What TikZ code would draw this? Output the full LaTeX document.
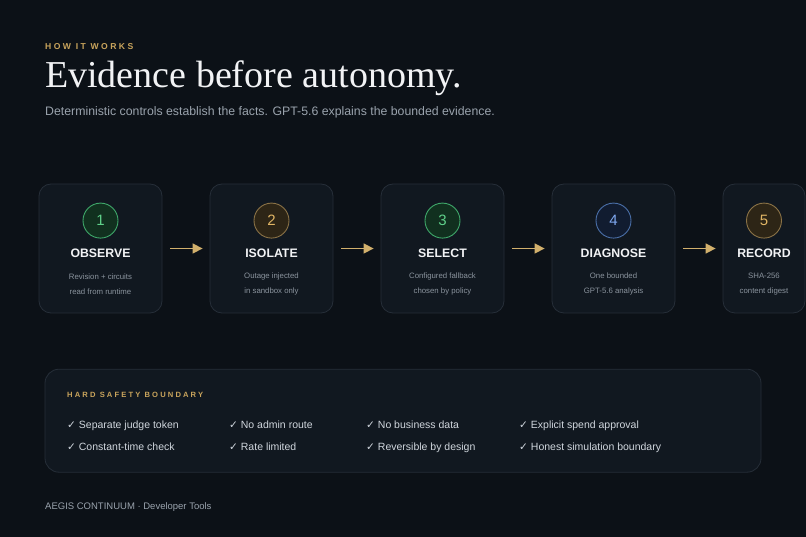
\documentclass[tikz,border=0pt]{standalone}
\usepackage{fontspec}
\setmainfont{Liberation Sans}
\newfontfamily\titlefont{Liberation Serif}
\newfontfamily\trackfont[LetterSpace=28]{Liberation Sans}
\newfontfamily\checkfont{DejaVu Sans}
\usetikzlibrary{positioning}
\usetikzlibrary{arrows.meta}
\definecolor{pagebg}{HTML}{0C1117}
\definecolor{cardfill}{HTML}{111820}
\definecolor{cardline}{HTML}{262E38}
\definecolor{accent}{HTML}{D2B06C}
\definecolor{eyebrowgold}{HTML}{C9A45C}
\definecolor{headwhite}{HTML}{F2F3F5}
\definecolor{subgray}{HTML}{9AA3AD}
\definecolor{notegray}{HTML}{8B949E}
\definecolor{itemgray}{HTML}{D0D6DD}
\newcommand{\chk}{{\checkfont ✓}}
\tikzset{card/.style={draw=cardline,fill=cardfill,rounded corners=12pt,line width=0.8pt,
                      minimum width=123pt,minimum height=129pt,inner sep=0pt}}
\tikzset{badge/.style={circle,minimum size=35pt,inner sep=0pt,line width=0.9pt,
                       font=\fontsize{15}{15}\selectfont}}
\begin{document}
\begin{tikzpicture}[x=1pt,y=-1pt,>=latex]
  \tikzstyle{eyebrow}=[anchor=west,inner sep=0pt,text height=6pt,text depth=0pt,
                       text=eyebrowgold,font=\trackfont\bfseries\fontsize{8.6}{8.6}\selectfont]
  \tikzstyle{steptitle}=[inner sep=0pt,text height=8.8pt,text depth=0pt,text=headwhite,
                         font=\bfseries\fontsize{12.3}{12.3}\selectfont]
  \tikzstyle{stepnote}=[inner sep=0pt,align=center,text=notegray,font=\fontsize{7.8}{14.5}\selectfont]
  \tikzstyle{item}=[anchor=west,inner sep=0pt,text height=7.6pt,text depth=0pt,text=itemgray,
                    font=\fontsize{10.5}{10.5}\selectfont]
  \tikzstyle{flowarrow}=[draw=accent,line width=1.5pt,-{Triangle[length=10pt,width=10pt]}]
  \definecolor{gringreen}{HTML}{3FA86A}
  \definecolor{grinfill}{HTML}{11301F}
  \definecolor{numgreen}{HTML}{5FD08A}
  \definecolor{ringgold}{HTML}{8A7246}
  \definecolor{goldfill}{HTML}{2D2516}
  \definecolor{numgold}{HTML}{E0B565}
  \definecolor{ringblue}{HTML}{4A6FA8}
  \definecolor{bluefill}{HTML}{111C30}
  \definecolor{numblue}{HTML}{7FA8F0}
  \tikzstyle{greenbadge}=[badge,draw=gringreen,fill=grinfill,text=numgreen]
  \tikzstyle{goldbadge}=[badge,draw=ringgold,fill=goldfill,text=numgold]
  \tikzstyle{bluebadge}=[badge,draw=ringblue,fill=bluefill,text=numblue]

  % page and its margins
  \fill[pagebg] (0,0) rectangle (806,537);
  \useasboundingbox (0,0) rectangle (806,537);

  % heading
  \node[eyebrow] (howit) at (45,47) {HOW IT WORKS};
  \node[anchor=west,inner sep=0pt,text height=25.2pt,text depth=0pt,text=headwhite,
        font=\titlefont\fontsize{38}{38}\selectfont] (headline) at (45,74.5) {Evidence before autonomy.};
  \node[anchor=west,inner sep=0pt,text height=8.8pt,text depth=0pt,text=subgray,
        font=\fontsize{12.3}{12.3}\selectfont] (subline) at (45,111)
        {Deterministic controls establish the facts. GPT-5.6 explains the bounded evidence.};

  % the five steps
  \node[card] (observe) at (100.5,248.5) {};
  \node[card,right=47.2pt of observe] (isolate) {};
  \node[card,right=47.2pt of isolate] (select) {};
  \node[card,right=47.2pt of select] (diagnose) {};
  \node[card,minimum width=82pt,right=47.2pt of diagnose] (record) {};

  \node[greenbadge] (n1) at ([yshift=-37pt]observe.north) {1};
  \node[goldbadge]  (n2) at ([yshift=-37pt]isolate.north) {2};
  \node[greenbadge] (n3) at ([yshift=-37pt]select.north) {3};
  \node[bluebadge]  (n4) at ([yshift=-37pt]diagnose.north) {4};
  \node[goldbadge]  (n5) at ([yshift=-37pt]record.north) {5};

  \node[steptitle] (t1) at ([yshift=-69.5pt]observe.north) {OBSERVE};
  \node[steptitle] (t2) at ([yshift=-69.5pt]isolate.north) {ISOLATE};
  \node[steptitle] (t3) at ([yshift=-69.5pt]select.north) {SELECT};
  \node[steptitle] (t4) at ([yshift=-69.5pt]diagnose.north) {DIAGNOSE};
  \node[steptitle] (t5) at ([yshift=-69.5pt]record.north) {RECORD};

  \node[stepnote] (d1) at ([yshift=-100.5pt]observe.north) {Revision + circuits\\read from runtime};
  \node[stepnote] (d2) at ([yshift=-100.5pt]isolate.north) {Outage injected\\in sandbox only};
  \node[stepnote] (d3) at ([yshift=-100.5pt]select.north) {Configured fallback\\chosen by policy};
  \node[stepnote] (d4) at ([yshift=-100.5pt]diagnose.north) {One bounded\\GPT-5.6 analysis};
  \node[stepnote] (d5) at ([yshift=-100.5pt]record.north) {SHA-256\\content digest};

  \draw[flowarrow] ([xshift=8pt]observe.east) -- ([xshift=-7pt]isolate.west);
  \draw[flowarrow] ([xshift=8pt]isolate.east) -- ([xshift=-7pt]select.west);
  \draw[flowarrow] ([xshift=8pt]select.east) -- ([xshift=-7pt]diagnose.west);
  \draw[flowarrow] ([xshift=8pt]diagnose.east) -- ([xshift=-7pt]record.west);

  % safety boundary panel
  \node[card,rounded corners=14pt,minimum width=716pt,minimum height=103pt] (boundary) at (403,420.7) {};
  \node[eyebrow,text height=5.4pt,font=\trackfont\bfseries\fontsize{7.6}{7.6}\selectfont]
        (hard) at (67,394.3) {HARD SAFETY BOUNDARY};

  \node[item] (i1) at (67,424.3) {\chk{} Separate judge token};
  \node[item] (i2) at (229,424.3) {\chk{} No admin route};
  \node[item] (i3) at (366,424.3) {\chk{} No business data};
  \node[item] (i4) at (519,424.3) {\chk{} Explicit spend approval};
  \node[item] (i5) at (67,446.3) {\chk{} Constant-time check};
  \node[item] (i6) at (229,446.3) {\chk{} Rate limited};
  \node[item] (i7) at (366,446.3) {\chk{} Reversible by design};
  \node[item] (i8) at (519,446.3) {\chk{} Honest simulation boundary};

  % footer
  \node[anchor=west,inner sep=0pt,text height=7pt,text depth=0pt,text=subgray,
        font=\fontsize{9.5}{9.5}\selectfont] (footer) at (45,505.7) {AEGIS CONTINUUM · Developer Tools};
\end{tikzpicture}
\end{document}
